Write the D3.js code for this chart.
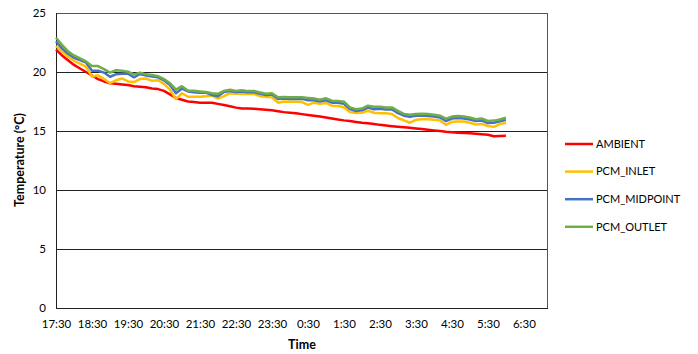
<!DOCTYPE html>
<html>
<head>
<meta charset="utf-8">
<script src="https://cdn.jsdelivr.net/npm/d3@7"></script>
<style>
  body { margin: 0; background: #fff; }
  svg text { font-family: Lato, "Open Sans", sans-serif; fill: #000; }
</style>
</head>
<body>
<div id="chart"></div>
<script>
// readings every 10 minutes, 17:30 -> 6:00 (hours after midnight of day one)
var times = d3.range(0, 76).map(function(k){ return 17.5 + k / 6; });

var ambient = [21.9,21.4,21.0,20.6,20.3,20.0,19.7,19.4,19.2,19.05,19.0,18.95,18.9,18.8,18.75,18.7,18.6,18.55,18.4,18.1,
  17.8,17.65,17.5,17.45,17.4,17.4,17.4,17.3,17.2,17.1,16.98,16.9,16.9,16.88,16.84,16.8,16.75,16.67,16.6,16.55,
  16.5,16.43,16.36,16.3,16.22,16.15,16.06,15.97,15.9,15.85,15.77,15.7,15.66,15.6,15.52,15.46,15.41,15.36,15.32,15.28,
  15.22,15.16,15.1,15.05,15.0,14.93,14.89,14.86,14.83,14.8,14.76,14.72,14.68,14.55,14.58,14.6];

var pcmInlet = [22.2,21.75,21.3,20.95,20.7,20.45,19.6,19.72,19.4,19.05,19.3,19.45,19.2,19.15,19.4,19.45,19.25,19.3,19.0,18.5,
  17.7,18.2,17.9,17.9,17.9,17.95,18.0,17.75,17.95,18.2,18.15,18.14,18.14,18.14,17.95,17.9,17.85,17.4,17.5,17.48,
  17.48,17.45,17.22,17.4,17.3,17.38,17.15,17.12,17.02,16.6,16.52,16.55,16.72,16.55,16.5,16.5,16.44,16.1,15.9,15.7,
  15.95,15.99,15.99,15.95,15.9,15.52,15.78,15.8,15.8,15.7,15.55,15.6,15.42,15.35,15.58,15.7];

var pcmMidpoint = [22.6,22.0,21.55,21.2,21.0,20.8,20.1,20.1,19.95,19.6,19.8,19.85,19.85,19.55,19.83,19.7,19.62,19.55,19.3,18.9,
  18.2,18.6,18.35,18.28,18.25,18.25,18.05,17.95,18.3,18.38,18.3,18.35,18.28,18.3,18.15,18.05,18.1,17.72,17.75,17.72,
  17.72,17.72,17.6,17.6,17.5,17.6,17.4,17.4,17.3,16.85,16.7,16.75,16.98,16.85,16.88,16.82,16.82,16.52,16.3,16.2,
  16.3,16.3,16.28,16.22,16.15,15.85,16.05,16.1,16.05,15.98,15.85,15.88,15.68,15.7,15.82,15.95];

var pcmOutlet = [22.9,22.3,21.75,21.4,21.15,20.9,20.5,20.5,20.25,19.95,20.15,20.1,20.03,19.8,19.95,19.8,19.75,19.65,19.4,19.05,
  18.5,18.8,18.42,18.41,18.35,18.3,18.2,18.15,18.4,18.5,18.4,18.45,18.38,18.4,18.27,18.15,18.2,17.85,17.88,17.86,
  17.86,17.86,17.8,17.75,17.65,17.77,17.57,17.55,17.48,17.0,16.84,16.9,17.15,17.05,17.05,17.0,17.0,16.7,16.45,16.38,
  16.45,16.47,16.44,16.38,16.3,16.05,16.22,16.27,16.22,16.15,16.0,16.05,15.85,15.88,15.98,16.12];

var seriesNames = ["AMBIENT", "PCM_INLET", "PCM_MIDPOINT", "PCM_OUTLET"];
var seriesColors = ["#ff0000", "#ffc000", "#4472c4", "#70ad47"];
var seriesValues = [ambient, pcmInlet, pcmMidpoint, pcmOutlet];

var xTicks = d3.range(17.5, 31, 1);
var yTicks = [0, 5, 10, 15, 20, 25];

var width = 698, height = 354;
var margin = {top: 13, right: 150, bottom: 46, left: 56};

var svg = d3.select("#chart").append("svg")
  .attr("width", width)
  .attr("height", height);

var x = d3.scaleLinear().domain([17.5, 31.17]).range([margin.left, width - margin.right]);
var y = d3.scaleLinear().domain([0, 25]).range([height - margin.bottom, margin.top]);

function hourLabel(h){
  var hh = Math.floor(h) % 24;
  return hh + ":30";
}

// horizontal grid
svg.append("g")
  .attr("transform", "translate(" + margin.left + ",0)")
  .call(d3.axisLeft(y).tickValues(yTicks).tickSize(-(x.range()[1] - margin.left)).tickFormat(""))
  .call(function(g){
    g.select(".domain").remove();
    g.selectAll("line").attr("stroke", "#222").attr("stroke-width", 1);
  });

// plot frame
svg.append("rect")
  .attr("x", margin.left + 0.5)
  .attr("y", margin.top + 0.5)
  .attr("width", x.range()[1] - margin.left - 1)
  .attr("height", y(0) - margin.top)
  .attr("fill", "none")
  .attr("stroke", "#555");

svg.append("line")
  .attr("x1", margin.left + 0.5).attr("x2", margin.left + 0.5)
  .attr("y1", margin.top).attr("y2", y(0))
  .attr("stroke", "#222");
svg.append("line")
  .attr("x1", margin.left).attr("x2", x.range()[1])
  .attr("y1", y(0) + 0.5).attr("y2", y(0) + 0.5)
  .attr("stroke", "#222");

// y tick labels
svg.append("g")
  .attr("transform", "translate(" + margin.left + ",0)")
  .call(d3.axisLeft(y).tickValues(yTicks).tickSize(0).tickPadding(10))
  .call(function(g){
    g.select(".domain").remove();
    g.selectAll("text").attr("font-size", "11.5px").attr("font-family", "Lato, sans-serif").attr("fill", "#000");
  });

// x tick labels
svg.append("g")
  .attr("transform", "translate(0," + y(0) + ")")
  .call(d3.axisBottom(x).tickValues(xTicks).tickSize(0).tickPadding(12).tickFormat(hourLabel))
  .call(function(g){
    g.select(".domain").remove();
    g.selectAll("text").attr("font-size", "11.5px").attr("font-family", "Lato, sans-serif").attr("fill", "#000");
  });

// axis titles
svg.append("text")
  .attr("x", 302)
  .attr("y", 349)
  .attr("text-anchor", "middle")
  .attr("font-size", "12.5px")
  .attr("font-weight", 700)
  .text("Time");

svg.append("text")
  .attr("transform", "translate(24,160) rotate(-90)")
  .attr("text-anchor", "middle")
  .attr("font-size", "12.5px")
  .attr("font-weight", 700)
  .text("Temperature (°C)");

// series lines
var line = d3.line()
  .x(function(d, i){ return x(times[i]); })
  .y(function(d){ return y(d); });

seriesValues.forEach(function(vals, i){
  svg.append("path")
    .datum(vals)
    .attr("fill", "none")
    .attr("stroke", seriesColors[i])
    .attr("stroke-width", 2.5)
    .attr("stroke-linejoin", "round")
    .attr("d", line);
});

// legend
var legend = svg.append("g").attr("transform", "translate(565,144)");
seriesNames.forEach(function(name, i){
  var row = legend.append("g").attr("transform", "translate(0," + (i * 27.6) + ")");
  row.append("line")
    .attr("x1", 0).attr("x2", 28)
    .attr("stroke", seriesColors[i])
    .attr("stroke-width", 2.5);
  row.append("text")
    .attr("x", 31)
    .attr("dy", "0.35em")
    .attr("font-size", "11px")
    .text(name);
});
</script>
</body>
</html>
